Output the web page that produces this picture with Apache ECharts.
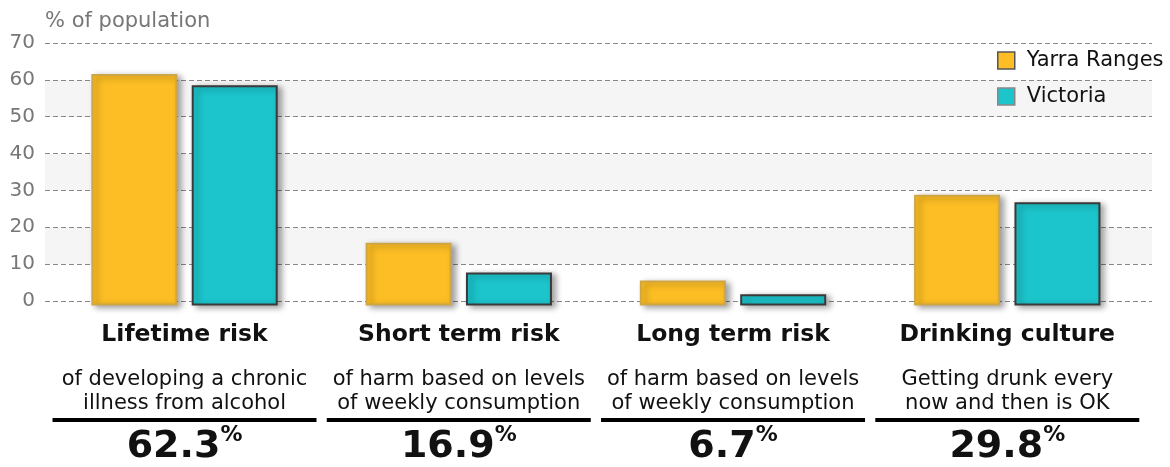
<!DOCTYPE html>
<html>
<head>
<meta charset="utf-8">
<script src="https://cdn.jsdelivr.net/npm/echarts@6/dist/echarts.min.js"></script>
<style>
  html, body { margin: 0; padding: 0; background: #ffffff; }
  #chart { width: 1170px; height: 467px; }
</style>
</head>
<body>
<div id="chart"></div>
<script>
// ---- data ----
const categories = ['Lifetime risk', 'Short term risk', 'Long term risk', 'Drinking culture'];
const subtitles = [
  ['of developing a chronic', 'illness from alcohol'],
  ['of harm based on levels', 'of weekly consumption'],
  ['of harm based on levels', 'of weekly consumption'],
  ['Getting drunk every', 'now and then is OK']
];
const headlineValues = ['62.3', '16.9', '6.7', '29.8'];
const yarraRanges = [62.3, 16.9, 6.7, 29.8];
const victoria = [59.3, 8.9, 3.0, 27.8];
const seriesNames = ['Yarra Ranges', 'Victoria'];
const yAxisName = '% of population';

const FONT = 'DejaVu Sans';
const chart = echarts.init(document.getElementById('chart'), null, { renderer: 'canvas' });

const option = {
  animation: false,
  backgroundColor: '#ffffff',
  textStyle: { fontFamily: FONT },
  grid: [
    { left: 45, right: 18, top: 43, bottom: 166, outerBoundsMode: 'none', containLabel: false },
    { left: 47.4, right: 25.6, top: 45.5, bottom: 161.5, outerBoundsMode: 'none', containLabel: false }
  ],
  legend: {
    orient: 'vertical',
    left: 992,
    top: 45,
    itemWidth: 17,
    itemHeight: 17,
    itemGap: 15,
    icon: 'rect',
    textStyle: { fontFamily: FONT, fontSize: 21, color: '#111', padding: [0, 0, 0, 7] },
    data: [
      { name: seriesNames[0], itemStyle: { borderColor: '#555', borderWidth: 1.5 } },
      { name: seriesNames[1], itemStyle: { borderColor: '#888', borderWidth: 1.5 } }
    ]
  },
  xAxis: [
    { gridIndex: 0, type: 'value', show: false, min: 0, max: 1 },
    {
      gridIndex: 1,
      type: 'category',
      data: categories,
      axisLine: { show: false },
      axisTick: { show: false },
      axisLabel: {
        interval: 0,
        margin: -4,
        color: '#111',
        formatter: function (value, idx) {
          const s = subtitles[idx];
          return '{t|' + value + '}\n{s|' + s[0] + '}\n{s|' + s[1] + '}\n{u|}\n{n|' + headlineValues[idx] + '}{p|%}';
        },
        rich: {
          t: { fontFamily: FONT, fontSize: 23.5, fontWeight: 'bold', color: '#111', lineHeight: 66 },
          s: { fontFamily: FONT, fontSize: 21, color: '#111', lineHeight: 24 },
          u: { width: 264, height: 4, lineHeight: 9, backgroundColor: '#000' },
          n: { fontFamily: FONT, fontSize: 38, fontWeight: 'bold', color: '#111', lineHeight: 46 },
          p: { fontFamily: FONT, fontSize: 22, fontWeight: 'bold', color: '#111', lineHeight: 28, verticalAlign: 'top' }
        }
      }
    }
  ],
  yAxis: [
    {
      gridIndex: 0,
      type: 'value',
      min: 0,
      max: 70,
      interval: 10,
      name: yAxisName,
      nameLocation: 'end',
      nameGap: 11,
      nameTextStyle: { fontFamily: FONT, fontSize: 21, color: '#777', align: 'left' },
      axisLine: { show: false },
      axisTick: { show: false },
      axisLabel: { fontFamily: FONT, fontSize: 20, color: '#777', margin: 10 },
      splitLine: { show: true, lineStyle: { color: '#888', width: 1, type: [5, 3] } },
      splitArea: { show: true, areaStyle: { color: ['#ffffff', '#f5f5f5'] } }
    },
    {
      gridIndex: 1,
      type: 'value',
      min: 0,
      max: 70,
      show: false,
      splitLine: { show: false }
    }
  ],
  series: [
    {
      name: seriesNames[0],
      type: 'bar',
      xAxisIndex: 1,
      yAxisIndex: 1,
      data: yarraRanges,
      barWidth: 86,
      barGap: '16.7%',
      itemStyle: {
        color: '#FCBE24',
        borderColor: '#CFA645',
        borderWidth: 2,
        shadowColor: 'rgba(0,0,0,0.35)',
        shadowBlur: 6,
        shadowOffsetX: 4,
        shadowOffsetY: 2
      }
    },
    {
      name: seriesNames[1],
      type: 'bar',
      xAxisIndex: 1,
      yAxisIndex: 1,
      data: victoria,
      barWidth: 86,
      barGap: '16.7%',
      itemStyle: {
        color: '#1CC4CB',
        borderColor: '#3A3A3A',
        borderWidth: 2,
        shadowColor: 'rgba(0,0,0,0.35)',
        shadowBlur: 6,
        shadowOffsetX: 4,
        shadowOffsetY: 2
      }
    }
  ]
};
chart.setOption(option);
</script>
</body>
</html>
